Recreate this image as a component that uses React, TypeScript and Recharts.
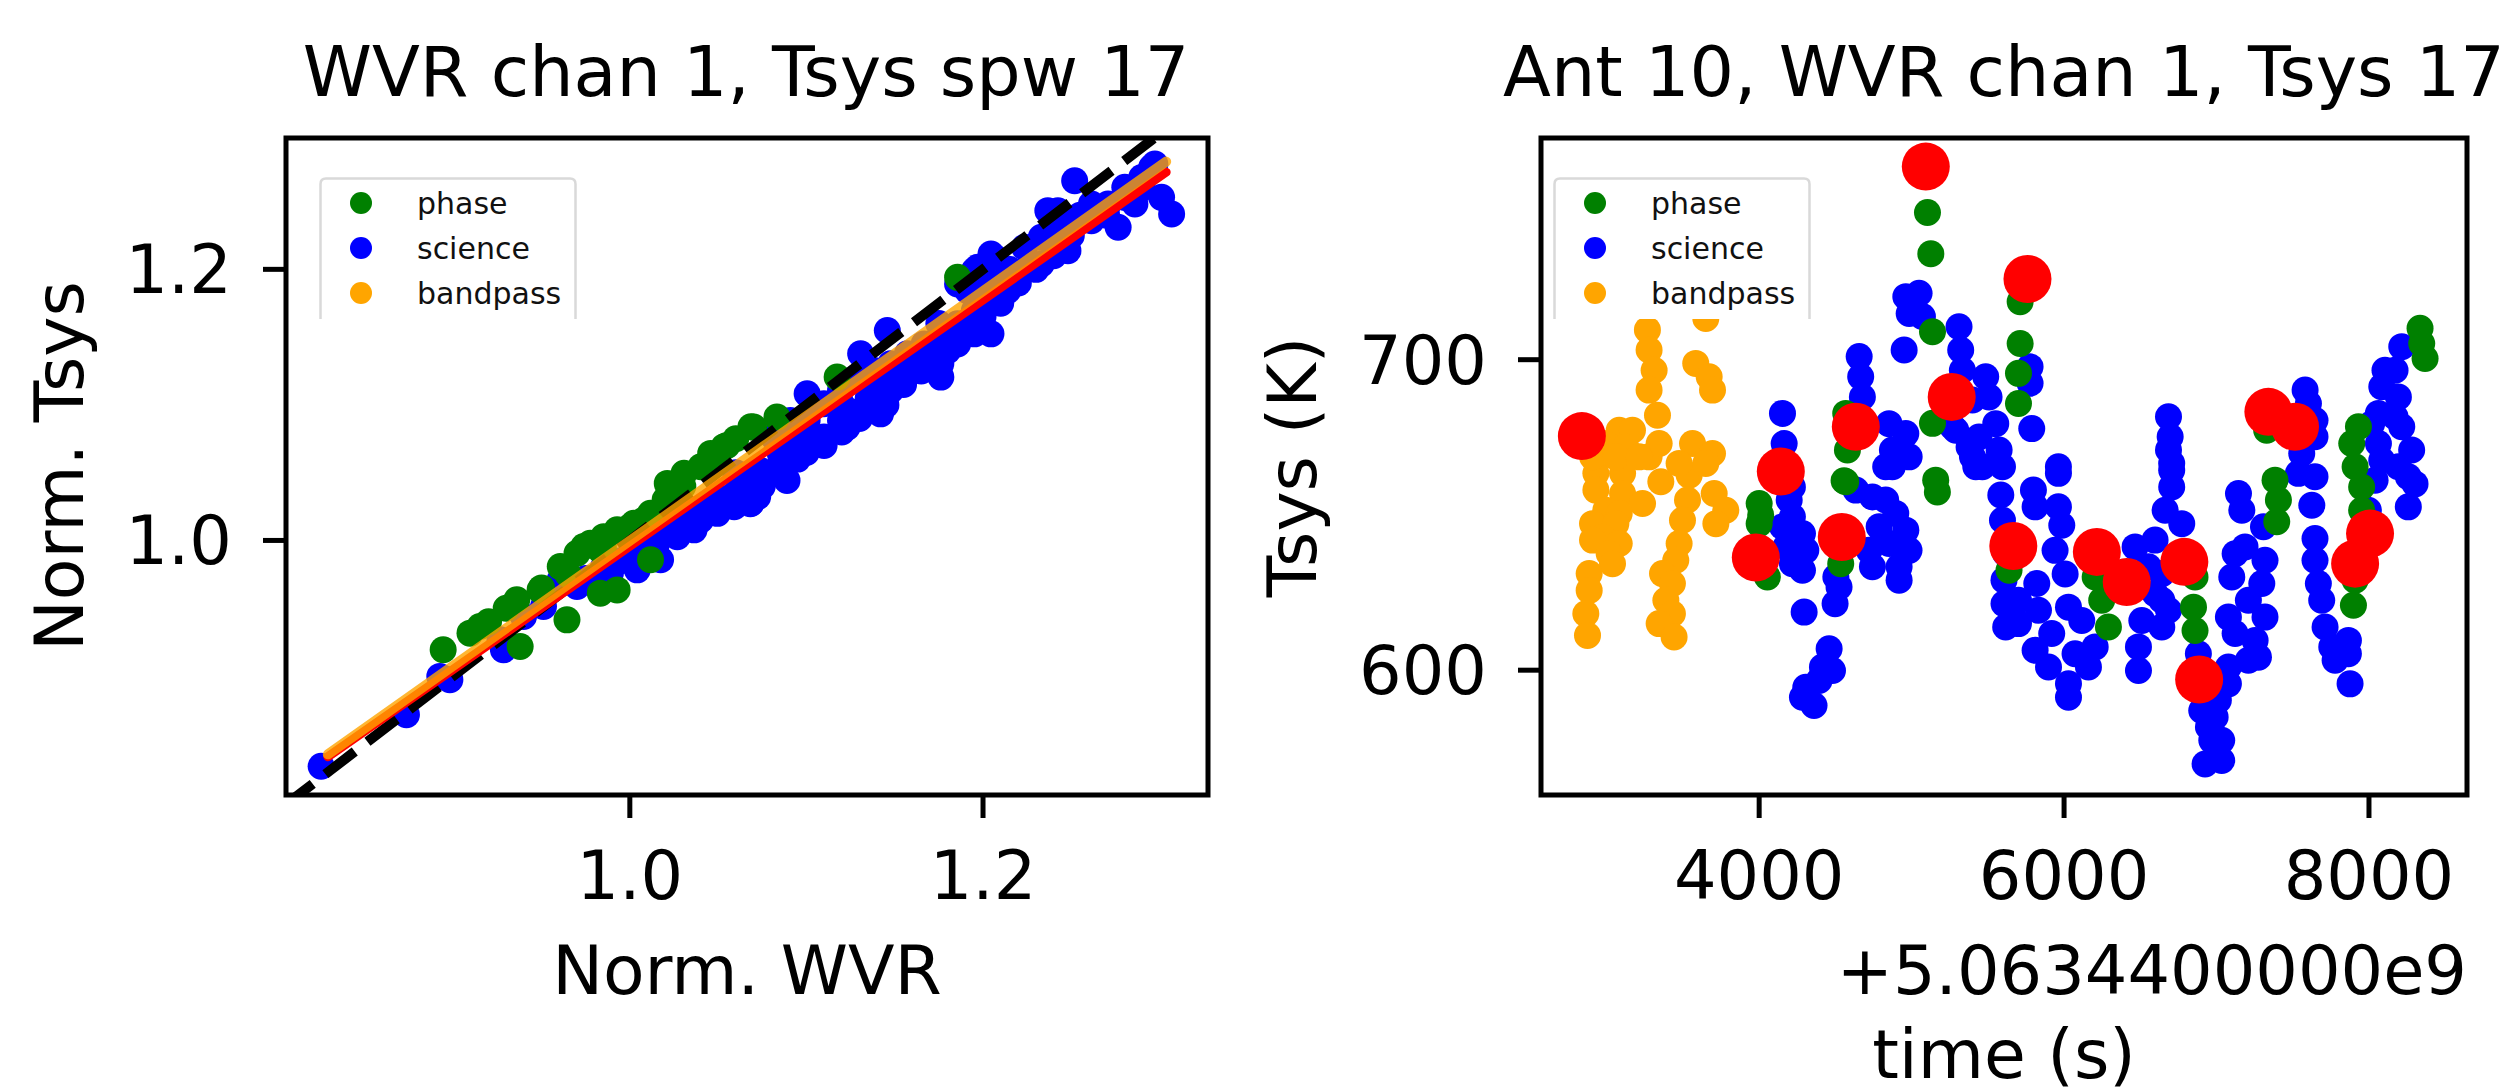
import React from 'react';
import { ComposedChart, Scatter, Line, XAxis, YAxis, ReferenceArea, Legend } from 'recharts';

const FONT = '"DejaVu Sans", sans-serif';

// ---------------- Left panel: Norm. WVR vs Norm. Tsys ----------------
const leftXDomain = [0.8053, 1.3274];
const leftYDomain = [0.8122, 1.2969];
const leftXTicks = [1.0, 1.2];
const leftYTicks = [1.0, 1.2];

const leftPhase: [number, number][] = [
  [0.8943, 0.9193], [0.9095, 0.9316], [0.9151, 0.9365], [0.9379, 0.9218], [0.936, 0.9562],
  [0.9492, 0.9635], [0.9644, 0.9414], [0.9606, 0.9807], [0.9739, 0.9955], [0.9833, 0.993],
  [0.9928, 0.9635], [0.9966, 1.0053], [1.008, 1.0151], [1.0212, 1.0421], [1.0307, 1.0495],
  [1.0458, 1.0642], [1.0534, 1.0692], [1.0686, 1.0839], [1.0701, 1.0836], [1.0833, 1.091],
  [1.1174, 1.1205], [1.1856, 1.1941], [0.9701, 0.9906], [0.9776, 0.9979], [0.9852, 1.0028],
  [0.9928, 1.0078], [1.0023, 1.0127], [1.0117, 1.02], [1.0402, 1.0544], [1.0477, 1.0618],
  [0.9833, 0.9611], [1.0117, 0.9857], [0.92, 0.94], [0.93, 0.95], [0.95, 0.965],
  [0.965, 0.975], [0.985, 0.995], [1.0, 1.01], [1.02, 1.03], [1.03, 1.04], [1.055, 1.07],
  [1.06, 1.075],
];

const leftScience: [number, number][] = [
  [0.8252, 0.8334], [0.8735, 0.8714], [0.8981, 0.8972], [0.8924, 0.8997], [0.9265, 0.9267],
  [0.9284, 0.9193], [0.9511, 0.9513], [0.9701, 0.966], [0.989, 0.9758], [1.0023, 1.0028],
  [1.008, 0.9955], [1.0042, 0.9783], [1.0212, 1.0078], [1.0307, 1.0127], [1.0401, 1.0151],
  [1.0496, 1.02], [1.0686, 1.0274], [1.0648, 1.0397], [1.0724, 1.047], [1.0269, 1.0028],
  [1.0364, 1.0078], [1.0591, 1.0249], [1.0496, 1.0323], [1.0724, 1.0323], [1.0117, 0.9955],
  [1.0174, 0.9857], [1.0042, 0.9906], [0.9606, 0.9709], [0.9398, 0.9439],
  [1.0682, 1.0271], [1.089, 1.0443], [1.1004, 1.1082], [1.1004, 1.0714], [1.1231, 1.0836],
  [1.1155, 1.1008], [1.1307, 1.1377], [1.1458, 1.1549], [1.142, 1.0934], [1.1477, 1.1107],
  [1.161, 1.1254], [1.1761, 1.1205], [1.1686, 1.1401], [1.1856, 1.145], [1.1951, 1.1524],
  [1.2045, 1.1524], [1.1989, 1.1696], [1.1856, 1.1892], [1.197, 1.2015], [1.2064, 1.2089],
  [1.214, 1.1843], [1.233, 1.204], [1.2481, 1.2138], [1.2367, 1.2433], [1.2519, 1.2654],
  [1.2614, 1.2359], [1.2765, 1.231], [1.2803, 1.2605], [1.2973, 1.2777], [1.3011, 1.2531],
  [1.3068, 1.2408], [1.286, 1.2482],
  [1.0814, 1.0763], [1.0909, 1.0885], [1.1004, 1.0885], [1.1099, 1.1008], [1.1193, 1.1106],
  [1.1288, 1.1205], [1.1383, 1.1254], [1.1477, 1.1303], [1.1572, 1.1377], [1.1667, 1.145],
  [1.1761, 1.1499], [1.1856, 1.1598], [1.1951, 1.1696], [1.2045, 1.1794], [1.214, 1.1942],
  [1.2235, 1.1991], [1.233, 1.2236], [1.2424, 1.2285], [1.2519, 1.2334], [1.2614, 1.2482],
  [1.2708, 1.2482], [1.2803, 1.2531], [1.2898, 1.2678], [1.2955, 1.2752], [1.0739, 1.0517],
  [1.0852, 1.064], [1.1099, 1.0763], [1.1345, 1.1008], [1.1534, 1.1205], [1.1761, 1.1303],
  [1.1193, 1.0885], [1.1951, 1.1991], [1.1913, 1.1843], [1.2045, 1.2113], [1.2235, 1.2163],
  [1.2424, 1.2433],
  [0.975, 0.972], [0.985, 0.98], [0.995, 0.985], [1.005, 0.99], [1.015, 0.997], [1.02, 1.012],
  [1.03, 1.015], [1.035, 1.02], [1.045, 1.025], [1.055, 1.03], [1.06, 1.035], [1.065, 1.045],
  [1.075, 1.04], [1.08, 1.05], [1.085, 1.055], [1.095, 1.06], [1.1, 1.065], [1.105, 1.075],
  [1.11, 1.07], [1.12, 1.08], [1.125, 1.095], [1.13, 1.09], [1.135, 1.105], [1.14, 1.11],
  [1.15, 1.12], [1.155, 1.115], [1.16, 1.13], [1.165, 1.125], [1.17, 1.135], [1.18, 1.14],
  [1.185, 1.15], [1.19, 1.16], [1.2, 1.165], [1.21, 1.175], [1.215, 1.2], [1.22, 1.19],
  [1.23, 1.2], [1.24, 1.21], [1.25, 1.225], [1.255, 1.24], [1.265, 1.245], [1.27, 1.24],
  [1.285, 1.255], [1.29, 1.26], [1.06, 1.05], [1.09, 1.075], [1.12, 1.1], [1.145, 1.1],
  [1.175, 1.16], [1.205, 1.19],
];

const unityLine: [number, number][] = [[0.78, 0.78], [1.35, 1.35]];
const redFit: [number, number][] = [[0.829, 0.8404], [1.3037, 1.2717]];
const orangeFit: [number, number][] = [[0.829, 0.8422], [1.3037, 1.2795]];

// ---------------- Right panel: Tsys vs time ----------------
const rightXDomain = [2569, 8643];
const rightYDomain = [559.8, 771.4];
const rightXTicks = [4000, 6000, 8000];
const rightYTicks = [600, 700];
const timeOffsetText = '+5.0634400000e9';

const rightBandpass: [number, number][] = [
  [2929, 663.4], [3104, 663.4], [2929, 658], [3104, 656.9], [3235, 653.7], [2994, 651.5],
  [3082, 650.5], [2907, 647.2], [3060, 647.2], [2972, 642.9], [3082, 640.8], [2907, 641.9],
  [3016, 637.6], [3038, 634.3], [2885, 631.1], [2885, 625.7], [2863, 618.2], [2874, 611.2],
  [3355, 660.7], [3541, 662.8], [3530, 654.8], [3497, 648.3], [3475, 640.8], [3453, 635.4],
  [3366, 631.1], [3431, 627.9], [3388, 622.5], [3431, 618.2], [3344, 615], [3442, 610.7],
  [3705, 656.9], [3781, 651.5], [3716, 647.2],
  [3267, 709.6], [3278, 703.1], [3311, 696.6], [3278, 690.2], [3333, 682.1], [3650, 713.3],
  [3584, 698.8], [3672, 694.5], [3694, 690.2], [3082, 677.3], [3169, 677.3], [2994, 673],
  [3125, 671.9], [3278, 668.7], [3344, 673], [3563, 673], [3694, 669.8], [2907, 668.7],
  [3060, 668.7], [3213, 668.7], [3475, 666.6], [3650, 666.6],
];

const rightScience: [number, number][] = [
  [4153, 682.7], [4164, 673], [4656, 701], [4666, 694.5], [4677, 688], [4852, 679.4],
  [4962, 676.2], [4874, 670.9], [4984, 668.7], [4830, 665.5], [4962, 720.3], [5049, 721.4],
  [4984, 714.9], [5071, 713.9], [4951, 703.1], [5311, 710.6], [5322, 703.1], [5333, 696.6],
  [5486, 694.5], [5508, 688], [5399, 687], [5552, 679.4], [5442, 675.1], [5574, 670.9],
  [5399, 668.7], [5290, 677.3], [5268, 678.4], [5377, 671.9], [5464, 665.5],
  [4197, 654.8], [4218, 649.4], [4284, 644], [4306, 638.6], [4284, 632.2], [4218, 634.3],
  [4175, 639.7], [4153, 646.2], [4295, 618.7], [4459, 606.9], [4481, 599.9], [4393, 596.7],
  [4306, 594.5], [4284, 591.3], [4360, 588.6], [4415, 601], [4503, 630], [4524, 626.8],
  [4498, 621.4], [4634, 658], [4743, 655.8], [4830, 654.8], [4896, 650.5], [4962, 645.1],
  [4787, 646.2], [4721, 638.6], [4743, 633.3], [4918, 633.3], [4918, 629], [4852, 640.8],
  [4874, 665.5], [5421, 665.5], [5596, 665.5], [5585, 656.4], [5596, 648.3], [5617, 637.6],
  [5606, 629], [5606, 621.4], [5617, 613.9], [4218, 659], [4983, 638.6],
  [5777, 697.7], [5777, 692.4], [5788, 677.8], [5963, 665.5], [6685, 681.6], [6696, 675.2],
  [6685, 670.9], [6706, 666.6], [7581, 690.2], [7603, 685.9], [7646, 680.5], [7646, 675.2],
  [7559, 669.8], [8215, 704.2], [8105, 696.6], [8084, 691.3], [8171, 696.6], [8193, 688],
  [8062, 682.7], [8171, 681.6], [8018, 679.4], [8215, 678.4], [8062, 673], [8280, 670.9],
  [8084, 667.6], [8193, 665.5],
  [5963, 663.4], [5799, 658], [5810, 652.6], [5963, 652.6], [5985, 646.7], [5941, 638.6],
  [6007, 631], [5821, 627.9], [5832, 619.3], [5701, 615], [5810, 606.4], [5898, 601],
  [6029, 591.3], [6029, 595.6], [5919, 611.8], [6029, 620.3], [6116, 616], [6072, 605.3],
  [6204, 607.5], [6160, 601], [5701, 622.5],
  [6466, 639.7], [6597, 641.9], [6553, 633.3], [6641, 631.1], [6510, 616], [6641, 613.9],
  [6488, 607.5], [6488, 599.9], [6641, 622.5], [6597, 624.6], [6685, 619.3], [6706, 659],
  [6663, 651.5], [6772, 647.2], [6706, 664.4],
  [6881, 605.3], [6903, 587], [6991, 584.9], [6969, 577.4], [7034, 577.4], [6925, 569.8],
  [7034, 570.9], [7012, 590.3], [7078, 601], [7078, 595.6], [6947, 581.7],
  [7122, 637.5], [7187, 639.7], [7318, 635.4], [7100, 630], [7297, 627.9], [7078, 617.1],
  [7318, 617.1], [7122, 611.8], [7253, 609.6], [7275, 604.2], [7209, 603.2], [7209, 622.5],
  [7144, 656.9], [7166, 651.5], [7308, 646.2],
  [7537, 663.4], [7646, 662.3], [7625, 653.1], [7646, 642.4], [7646, 635.4], [7668, 627.9],
  [7690, 622.5], [7712, 613.9], [7756, 607.5], [7865, 609.6], [7865, 605.3], [7876, 595.6],
  [7778, 603.2], [8040, 661.2], [8258, 662.3], [8258, 652.6], [7996, 651.5], [8302, 660],
];

const rightPhase: [number, number][] = [
  [5104, 747.4], [5126, 734.1], [5137, 709], [5137, 679.5], [4568, 682.7], [4579, 670.9],
  [5712, 718.7], [5712, 705.2], [5701, 695.6], [5701, 685.9], [7329, 677.3], [8335, 710.1],
  [8368, 700.4], [8346, 705.2], [7887, 673], [7931, 678.4], [4000, 653.7], [4000, 647.2],
  [4054, 630], [4568, 660.7], [4535, 634.3], [5158, 661.2], [5169, 657.4], [5639, 632.2],
  [6204, 630], [6247, 622.5], [6291, 613.9], [6859, 630], [6849, 620.3], [6859, 612.8],
  [7384, 661.2], [7406, 654.8], [7395, 647.8], [7952, 659], [7952, 651.5], [7898, 620.9],
  [7909, 629], [7909, 665.5], [4010, 650], [4557, 661],
];

const rightMean: [number, number][] = [
  [2837, 675.4], [3978, 636.3], [4142, 664], [4542, 642.9], [4634, 678.4], [5093, 762.2],
  [5263, 688], [5667, 640], [5760, 726], [6215, 638.1], [6411, 628.4], [6789, 634.9],
  [6886, 597], [7340, 683.2], [7515, 678.4], [7909, 634.3], [8007, 644],
];

const legendItems = [
  { name: 'phase', color: 'green' },
  { name: 'science', color: 'blue' },
  { name: 'bandpass', color: 'orange' },
];

const toPts = (arr: [number, number][]) => arr.map(([x, y]) => ({ x, y }));

const dot = (color: string, r: number) => (props: any) =>
  props.cx == null ? <g /> : <circle cx={props.cx} cy={props.cy} r={r} fill={color} />;

const makeXTick = (fmt: (v: number) => string) => (props: any) => (
  <text x={props.x} y={props.y + 81} textAnchor="middle" fontFamily={FONT} fontSize={67} fill="#000">
    {fmt(props.payload.value)}
  </text>
);

const makeYTick = (fmt: (v: number) => string) => (props: any) => (
  <text x={props.x - 31} y={props.y + 24} textAnchor="end" fontFamily={FONT} fontSize={67} fill="#000">
    {fmt(props.payload.value)}
  </text>
);

const LegendBox = () => (
  <svg width={258} height={142} style={{ display: 'block' }}>
    <path d="M1.5,142 V7 Q1.5,1.5 7,1.5 H251 Q256.5,1.5 256.5,7 V142" fill="#fff" stroke="#d9d9d9" strokeWidth={2.5} />
    {legendItems.map((it, i) => (
      <g key={it.name}>
        <circle cx={42} cy={26 + 45 * i} r={11} fill={it.color} />
        <text x={98} y={37 + 45 * i} fontFamily={FONT} fontSize={30} fill="#111">
          {it.name}
        </text>
      </g>
    ))}
  </svg>
);

const tickLineStyle = { stroke: '#000', strokeWidth: 5 };
const fmt1 = (v: number) => v.toFixed(1);
const fmt0 = (v: number) => String(Math.round(v));

const LeftChart = () => (
  <ComposedChart width={1250} height={1090} margin={{ top: 138, right: 42, bottom: 195, left: 0 }}>
    <XAxis dataKey="x" type="number" domain={leftXDomain} allowDataOverflow ticks={leftXTicks} interval={0}
      height={100} tickSize={23} tickMargin={0} axisLine={false} tickLine={tickLineStyle} tick={makeXTick(fmt1)} />
    <YAxis dataKey="y" type="number" domain={leftYDomain} allowDataOverflow ticks={leftYTicks} interval={0}
      width={286} tickSize={23} tickMargin={0} axisLine={false} tickLine={tickLineStyle} tick={makeYTick(fmt1)} />
    <Scatter name="science" data={toPts(leftScience)} dataKey="y" shape={dot('blue', 13.5)} isAnimationActive={false} zIndex={600} />
    <Scatter name="phase" data={toPts(leftPhase)} dataKey="y" shape={dot('green', 13.5)} isAnimationActive={false} zIndex={601} />
    <Line data={toPts(unityLine)} dataKey="y" type="linear" stroke="#000" strokeWidth={10} strokeDasharray="37 16"
      dot={false} activeDot={false} isAnimationActive={false} zIndex={700} />
    <Line data={toPts(redFit)} dataKey="y" type="linear" stroke="red" strokeWidth={9} strokeLinecap="round"
      dot={false} activeDot={false} isAnimationActive={false} zIndex={701} />
    <Line data={toPts(orangeFit)} dataKey="y" type="linear" stroke="orange" strokeOpacity={0.8} strokeWidth={10} strokeLinecap="round"
      dot={false} activeDot={false} isAnimationActive={false} zIndex={702} />
    <ReferenceArea x1={leftXDomain[0]} x2={leftXDomain[1]} y1={leftYDomain[0]} y2={leftYDomain[1]}
      fill="none" stroke="#000" strokeWidth={5} ifOverflow="visible" zIndex={800} />
    <Legend layout="horizontal" verticalAlign="middle" align="center"
      wrapperStyle={{ position: 'absolute', left: 319, top: 177, width: 258, height: 142, margin: 0, padding: 0, right: 'auto', bottom: 'auto' }}
      content={() => <LegendBox />} />
  </ComposedChart>
);

const RightChart = () => (
  <ComposedChart width={1251} height={1090} margin={{ top: 138, right: 34, bottom: 195, left: 0 }}>
    <XAxis dataKey="x" type="number" domain={rightXDomain} allowDataOverflow ticks={rightXTicks} interval={0}
      height={100} tickSize={23} tickMargin={0} axisLine={false} tickLine={tickLineStyle} tick={makeXTick(fmt0)} />
    <YAxis dataKey="y" type="number" domain={rightYDomain} allowDataOverflow ticks={rightYTicks} interval={0}
      width={291} tickSize={23} tickMargin={0} axisLine={false} tickLine={tickLineStyle} tick={makeYTick(fmt0)} />
    <Scatter name="bandpass" data={toPts(rightBandpass)} dataKey="y" shape={dot('orange', 13.5)} isAnimationActive={false} zIndex={600} />
    <Scatter name="science" data={toPts(rightScience)} dataKey="y" shape={dot('blue', 13.5)} isAnimationActive={false} zIndex={601} />
    <Scatter name="phase" data={toPts(rightPhase)} dataKey="y" shape={dot('green', 13.5)} isAnimationActive={false} zIndex={602} />
    <Scatter name="mean" data={toPts(rightMean)} dataKey="y" shape={dot('red', 24)} isAnimationActive={false} zIndex={603} />
    <ReferenceArea x1={rightXDomain[0]} x2={rightXDomain[1]} y1={rightYDomain[0]} y2={rightYDomain[1]}
      fill="none" stroke="#000" strokeWidth={5} ifOverflow="visible" zIndex={800} />
    <Legend layout="horizontal" verticalAlign="middle" align="center"
      wrapperStyle={{ position: 'absolute', left: 303, top: 177, width: 258, height: 142, margin: 0, padding: 0, right: 'auto', bottom: 'auto' }}
      content={() => <LegendBox />} />
  </ComposedChart>
);

export default function App() {
  return (
    <div style={{ position: 'absolute', left: 0, top: 0, width: 2501, height: 1090, background: '#fff', overflow: 'hidden' }}>
      <div style={{ position: 'absolute', left: 0, top: 0 }}>
        <LeftChart />
      </div>
      <div style={{ position: 'absolute', left: 1250, top: 0 }}>
        <RightChart />
      </div>
      <svg width={2501} height={1090} style={{ position: 'absolute', left: 0, top: 0, pointerEvents: 'none' }}>
        <g fontFamily={FONT} fill="#000">
          <text x={746} y={96} textAnchor="middle" fontSize={70}>WVR chan 1, Tsys spw 17</text>
          <text x={2004} y={96} textAnchor="middle" fontSize={70}>Ant 10, WVR chan 1, Tsys 17</text>
          <text x={747} y={994} textAnchor="middle" fontSize={68}>Norm. WVR</text>
          <text x={2467} y={994} textAnchor="end" fontSize={67}>{timeOffsetText}</text>
          <text x={2004} y={1078} textAnchor="middle" fontSize={68}>time (s)</text>
          <text x={83} y={466} textAnchor="middle" fontSize={68} transform="rotate(-90, 83, 466)">Norm. Tsys</text>
          <text x={1316} y={467} textAnchor="middle" fontSize={68} transform="rotate(-90, 1316, 467)">Tsys (K)</text>
        </g>
      </svg>
    </div>
  );
}
